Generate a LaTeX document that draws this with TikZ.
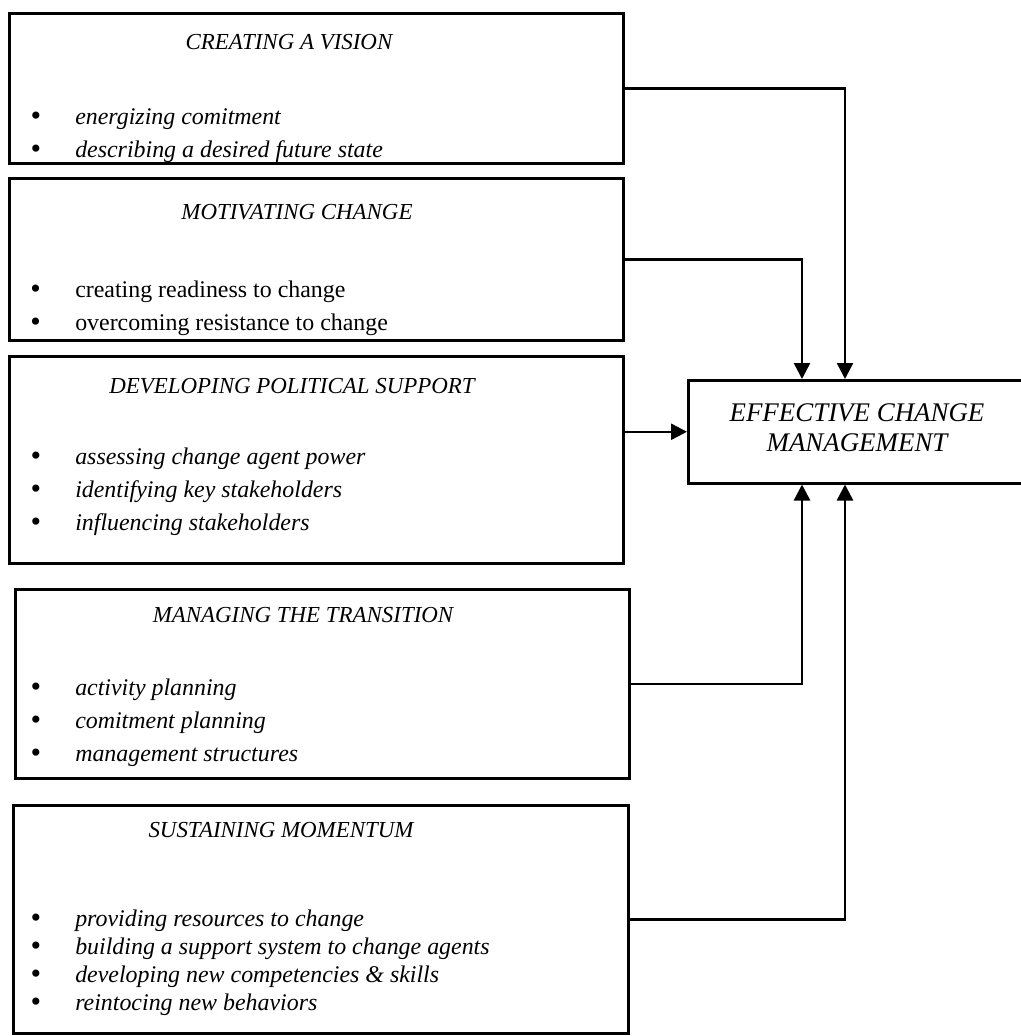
\documentclass[tikz,border=0pt]{standalone}
\usepackage{fontspec}
\setmainfont{Liberation Serif}
\usetikzlibrary{arrows.meta,positioning}

\newcommand{\stagebullet}{\makebox[45bp][l]{\smash{\raisebox{-1.5bp}{\fontsize{30}{0}\selectfont\textbullet}}}}

\begin{document}
\begin{tikzpicture}[
    x=1bp, y=-1bp,
    line width=2.5bp,
    stage box/.style={draw,rectangle,anchor=north west,inner sep=0pt,minimum width=614bp},
    stage title/.style={font=\fontsize{23}{26}\selectfont\itshape,inner sep=0pt},
    stage list/.style={font=\fontsize{24}{33}\selectfont\itshape,align=left,anchor=base west,inner sep=0pt},
    goal box/.style={draw,rectangle,anchor=north west,inner sep=0pt,minimum width=345bp,minimum height=103bp},
    goal text/.style={font=\fontsize{27}{30}\selectfont\itshape,align=center,inner sep=0pt},
    flow/.style={-{Triangle[length=16bp,width=16bp]}}]

  \useasboundingbox (0,0) rectangle (1021,1036);

  % the five stages
  \node[stage box,minimum height=150bp] (vision) at (8,12) {};
  \node[stage box,minimum height=162bp] (motive) at (8,177) {};
  \node[stage box,minimum height=207bp] (polit) at (8,355) {};
  \node[stage box,minimum height=189bp] (trans) at (14,588) {};
  \node[stage box,minimum height=228bp,minimum width=615bp] (sustain) at (12,804) {};

  \node[stage title] (visiontitle) at (289,42) {CREATING A VISION};
  \node[stage title] (motivetitle) at (297,212) {MOTIVATING CHANGE};
  \node[stage title] (polittitle) at (292,386) {DEVELOPING POLITICAL SUPPORT};
  \node[stage title] (transtitle) at (303,615) {MANAGING THE TRANSITION};
  \node[stage title] (sustaintitle) at (281,830) {SUSTAINING MOMENTUM};

  % base is the last line of each list
  \node[stage list] (visionlist) at (29,157) {%
    \stagebullet energizing comitment\\
    \stagebullet describing a desired future state};
  \node[stage list,font=\fontsize{24}{33}\selectfont\upshape] (motivelist) at (29,330) {%
    \stagebullet creating readiness to change\\
    \stagebullet overcoming resistance to change};
  \node[stage list] (politlist) at (29,530) {%
    \stagebullet assessing change agent power\\
    \stagebullet identifying key stakeholders\\
    \stagebullet influencing stakeholders};
  \node[stage list] (translist) at (29,761) {%
    \stagebullet activity planning\\
    \stagebullet comitment planning\\
    \stagebullet management structures};
  \node[stage list,font=\fontsize{24}{28}\selectfont\itshape] (sustainlist) at (29,1010) {%
    \stagebullet providing resources to change\\
    \stagebullet building a support system to change agents\\
    \stagebullet developing new competencies \& skills\\
    \stagebullet reintocing new behaviors};

  % the goal
  \node[goal box] (ecm) at (687,379) {};
  \node[goal text] (ecmtext) at (857,428) {EFFECTIVE CHANGE\\MANAGEMENT};

  \draw[flow] (vision.east) -| ([xshift=158bp]ecm.north west);
  \draw[flow] (motive.east) -| ([xshift=115bp]ecm.north west);
  \draw[flow] (polit.east |- ecm.west) -- (ecm.west);
  \draw[flow] (trans.east) -| ([xshift=115bp]ecm.south west);
  \draw[flow] (sustain.east) -| ([xshift=158bp]ecm.south west);
\end{tikzpicture}
\end{document}
